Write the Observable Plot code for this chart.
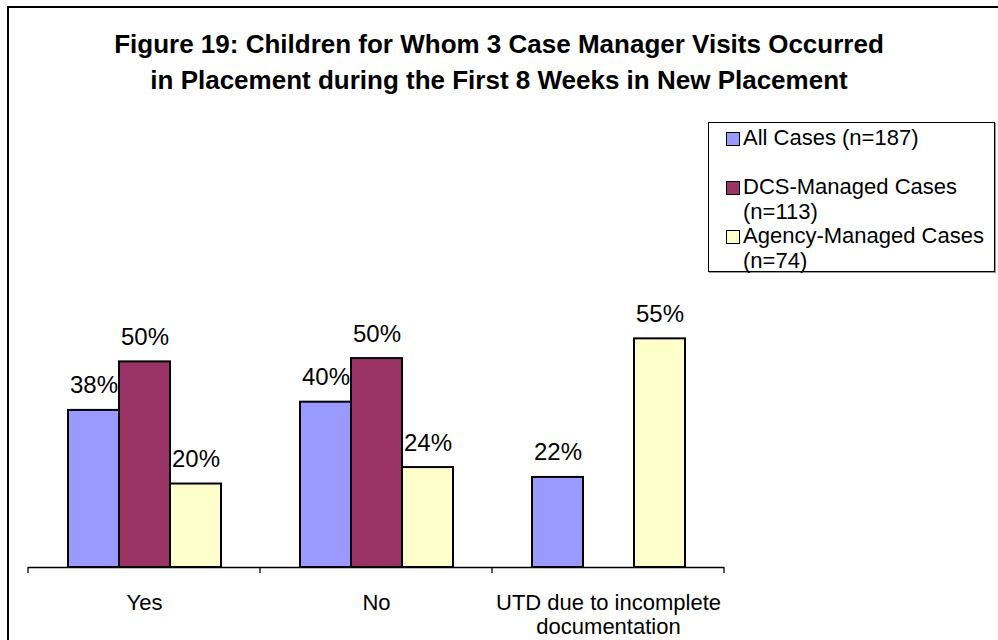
<!DOCTYPE html>
<html>
<head>
<meta charset="utf-8">
<script src="https://cdn.jsdelivr.net/npm/d3@7"></script>
<script src="https://cdn.jsdelivr.net/npm/@observablehq/plot@0.6"></script>
<style>
  body { margin: 0; background: #fff; }
  #wrap { position: relative; width: 998px; height: 640px; overflow: hidden; background: #fff;
          font-family: "Liberation Sans", Arial, sans-serif; color: #000; }
  #frame { position: absolute; left: 7px; top: 6px; right: -10px; bottom: -10px;
           border-left: 2px solid #000; border-top: 2px solid #000; }
  #title { position: absolute; left: 0; top: 26px; width: 998px; text-align: center;
           font-weight: bold; font-size: 26px; line-height: 36px; }
  #legend { position: absolute; left: 708px; top: 122px; width: 287px; height: 150px;
            border: 1px solid #000; box-shadow: 1px 1px 0 #999; box-sizing: border-box;
            font-size: 22px; line-height: 24.5px; padding: 3px 0 0 17px; }
  .item { display: flex; align-items: flex-start; margin-bottom: 24.5px; }
  .item + .item { margin-bottom: 0; }
  .sw { width: 12px; height: 12px; border: 1.5px solid #000; margin: 6px 3px 0 0; flex: none; }
  #chart { position: absolute; left: 0; top: 110px; }
</style>
</head>
<body>
<div id="wrap">
  <div id="frame"></div>
  <div id="title">Figure 19: Children for Whom 3 Case Manager Visits Occurred<br>in Placement during the First 8 Weeks in New Placement</div>
  <div id="legend"></div>
  <div id="chart"></div>
</div>
<script>
// ---- data ----
const categories = ["Yes", "No", "UTD due to incomplete documentation"];
const tickLabels = ["Yes", "No", "UTD due to incomplete\ndocumentation"];
const series = ["All Cases (n=187)", "DCS-Managed Cases (n=113)", "Agency-Managed Cases (n=74)"];
const legendLines = [["All Cases (n=187)"], ["DCS-Managed Cases", "(n=113)"], ["Agency-Managed Cases", "(n=74)"]];
const colors = ["#9999FF", "#993366", "#FFFFCC"];
const allCases = [38.2, 40.2, 21.9];
const dcsCases = [50.0, 50.8, null];
const agencyCases = [20.3, 24.3, 55.6];
const allLabels = ["38%", "40%", "22%"];
const dcsLabels = ["50%", "50%", null];
const agencyLabels = ["20%", "24%", "55%"];

// ---- build table ----
const valueSets = [allCases, dcsCases, agencyCases];
const labelSets = [allLabels, dcsLabels, agencyLabels];
const rows = [];
categories.forEach((c, i) => {
  series.forEach((s, j) => {
    if (valueSets[j][i] != null) rows.push({category: c, series: s, value: valueSets[j][i], label: labelSets[j][i]});
  });
});

const font = '"Liberation Sans", Arial, sans-serif';
const plot = Plot.plot({
  width: 998,
  height: 530,
  marginLeft: 27,
  marginRight: 274,
  marginTop: 128,
  marginBottom: 73,
  style: {fontFamily: font, color: "#000", background: "transparent", overflow: "visible"},
  fx: {domain: categories, padding: 0, label: null},
  x: {domain: series, paddingInner: 0, paddingOuter: 0.75, axis: null},
  y: {domain: [0, 80], axis: null},
  color: {domain: series, range: colors},
  marks: [
    Plot.barY(rows, {fx: "category", x: "series", y: "value", fill: "series", stroke: "#000", strokeWidth: 2}),
    Plot.text(rows, {fx: "category", x: "series", y: "value", text: "label", lineAnchor: "bottom", dy: -17, fontSize: 24, fill: "#000"}),
    Plot.ruleY([0], {stroke: "#000", strokeWidth: 1.3}),
    Plot.axisFx({anchor: "bottom", tickSize: 0, tickPadding: 26, fontSize: 22, lineHeight: 1.08,
                 tickFormat: d => tickLabels[categories.indexOf(d)], label: null, fill: "#000"})
  ]
});

// category boundary ticks from the library's scales
const fxs = plot.scale("fx");
const ys = plot.scale("y");
const y0 = ys.apply(0);
const bounds = categories.map(c => fxs.apply(c));
bounds.push(fxs.apply(categories[categories.length - 1]) + fxs.bandwidth);
d3.select(plot).append("g")
  .selectAll("line").data(bounds).join("line")
  .attr("x1", d => d).attr("x2", d => d)
  .attr("y1", y0).attr("y2", y0 + 6)
  .attr("stroke", "#000").attr("stroke-width", 1.3);

document.getElementById("chart").appendChild(plot);

// legend
const lg = d3.select("#legend");
legendLines.forEach((lines, j) => {
  const it = lg.append("div").attr("class", "item");
  it.append("div").attr("class", "sw").style("background", colors[j]);
  it.append("div").html(lines.join("<br>"));
});
</script>
</body>
</html>
